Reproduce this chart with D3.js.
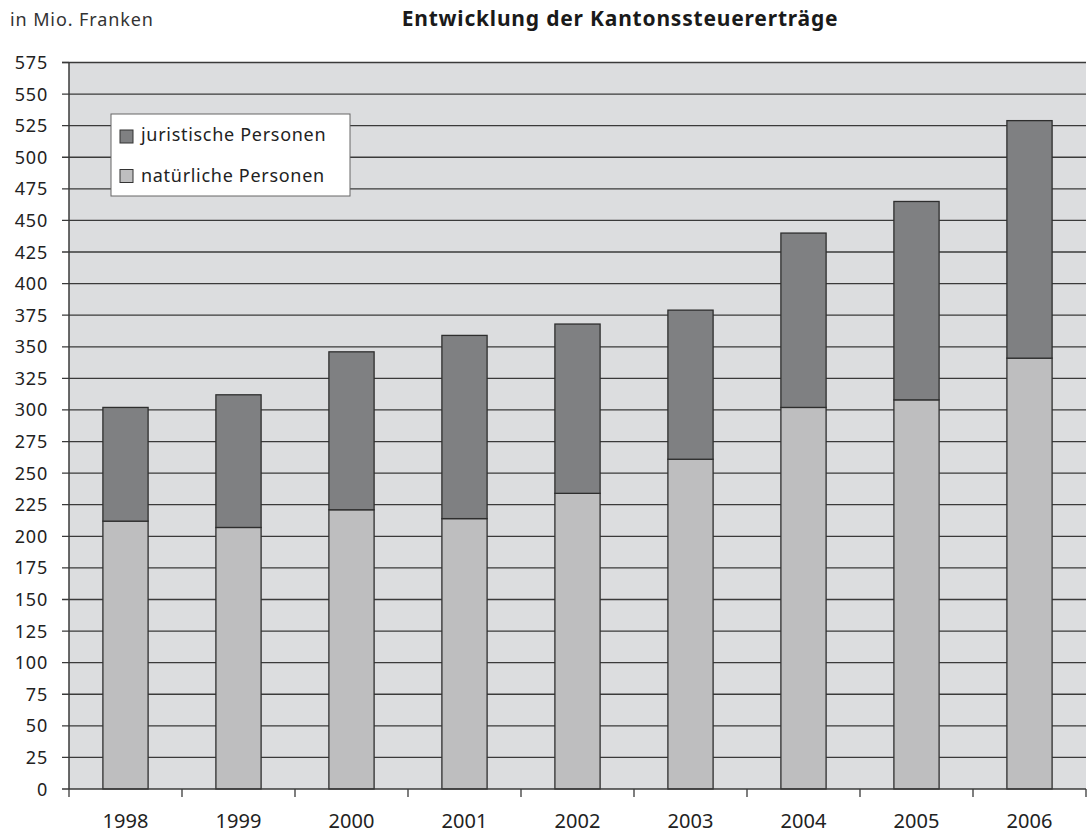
<!DOCTYPE html>
<html><head><meta charset="utf-8">
<script src="https://cdn.jsdelivr.net/npm/d3@7"></script>
<style>body{margin:0;background:#fff;} text{font-family:"Noto Sans","Liberation Sans",Arial,sans-serif;}</style>
</head><body><svg id="c" width="1091" height="834"></svg>
<script>
const years = ["1998","1999","2000","2001","2002","2003","2004","2005","2006"];
const natuerliche = [212,207,221,214,234,261,302,308,341];
const juristische = [90,105,125,145,134,118,138,157,188];
const yTicks = d3.range(0,576,25);
const seriesNames = ["juristische Personen","natürliche Personen"];

const svg = d3.select("#c");
const L=69,R=1086,T=62.5,B=789;
const x = d3.scaleBand().domain(years).range([L,R]).paddingInner(0.6).paddingOuter(0.3);
const xb = d3.scaleBand().domain(years).range([L,R]);
const y = d3.scaleLinear().domain([0,575]).range([B,T]);

svg.append("rect").attr("x",L).attr("y",T).attr("width",R-L).attr("height",B-T).attr("fill","#dcdddf");
svg.append("g").selectAll("line").data(yTicks.filter(d=>d>0)).join("line")
  .attr("x1",L-7).attr("x2",R).attr("y1",d=>y(d)).attr("y2",d=>y(d))
  .attr("stroke","#3a3a3a").attr("stroke-width",1.3);

const data = years.map((yr,i)=>({yr,n:natuerliche[i],j:juristische[i]}));
const g = svg.append("g");
g.selectAll(".n").data(data).join("rect")
  .attr("x",d=>x(d.yr)).attr("width",x.bandwidth())
  .attr("y",d=>y(d.n)).attr("height",d=>B-y(d.n))
  .attr("fill","#bebebf").attr("stroke","#2e2e2e").attr("stroke-width",1.3);
g.selectAll(".j").data(data).join("rect")
  .attr("x",d=>x(d.yr)).attr("width",x.bandwidth())
  .attr("y",d=>y(d.n+d.j)).attr("height",d=>y(d.n)-y(d.n+d.j))
  .attr("fill","#7f8082").attr("stroke","#2e2e2e").attr("stroke-width",1.3);

// axes
svg.append("line").attr("x1",L).attr("x2",L).attr("y1",T).attr("y2",B).attr("stroke","#3a3a3a").attr("stroke-width",1.5);
svg.append("line").attr("x1",L-7).attr("x2",R).attr("y1",B).attr("y2",B).attr("stroke","#3a3a3a").attr("stroke-width",1.5);
svg.append("line").attr("x1",L-7).attr("x2",L).attr("y1",T).attr("y2",T).attr("stroke","#3a3a3a").attr("stroke-width",1.3);
const bounds = years.map(yr=>xb(yr)).concat([R]);
svg.append("g").selectAll("line").data(bounds).join("line")
  .attr("x1",d=>d).attr("x2",d=>d).attr("y1",B).attr("y2",B+8)
  .attr("stroke","#3a3a3a").attr("stroke-width",1.3);

svg.append("g").selectAll("text").data(yTicks).join("text")
  .attr("x",48).attr("y",d=>y(d)+6.5).attr("text-anchor","end")
  .attr("font-size",18).attr("letter-spacing",0.8).attr("fill","#222").text(d=>d);
svg.append("g").selectAll("text").data(years).join("text")
  .attr("x",d=>xb(d)+xb.bandwidth()/2).attr("y",828).attr("text-anchor","middle")
  .attr("font-size",20).attr("fill","#222").text(d=>d);

svg.append("text").attr("x",10).attr("y",26).attr("font-size",18).attr("letter-spacing",0.9).attr("fill","#333").text("in Mio. Franken");
svg.append("text").attr("x",620).attr("y",26).attr("text-anchor","middle").attr("font-size",21).attr("letter-spacing",0.8).attr("font-weight","bold").attr("fill","#1a1a1a").text("Entwicklung der Kantonssteuererträge");

// legend
const lg = svg.append("g");
lg.append("rect").attr("x",111).attr("y",114).attr("width",239).attr("height",82).attr("fill","#fff").attr("stroke","#666").attr("stroke-width",1);
const lcol = ["#7f8082","#bebebf"];
seriesNames.forEach((s,i)=>{
  lg.append("rect").attr("x",120).attr("y",130+i*39.5).attr("width",13).attr("height",13).attr("fill",lcol[i]).attr("stroke","#333").attr("stroke-width",1);
  lg.append("text").attr("x",141).attr("y",141+i*40.5).attr("font-size",18).attr("letter-spacing",0.7).attr("fill","#222").text(s);
});
</script></body></html>
